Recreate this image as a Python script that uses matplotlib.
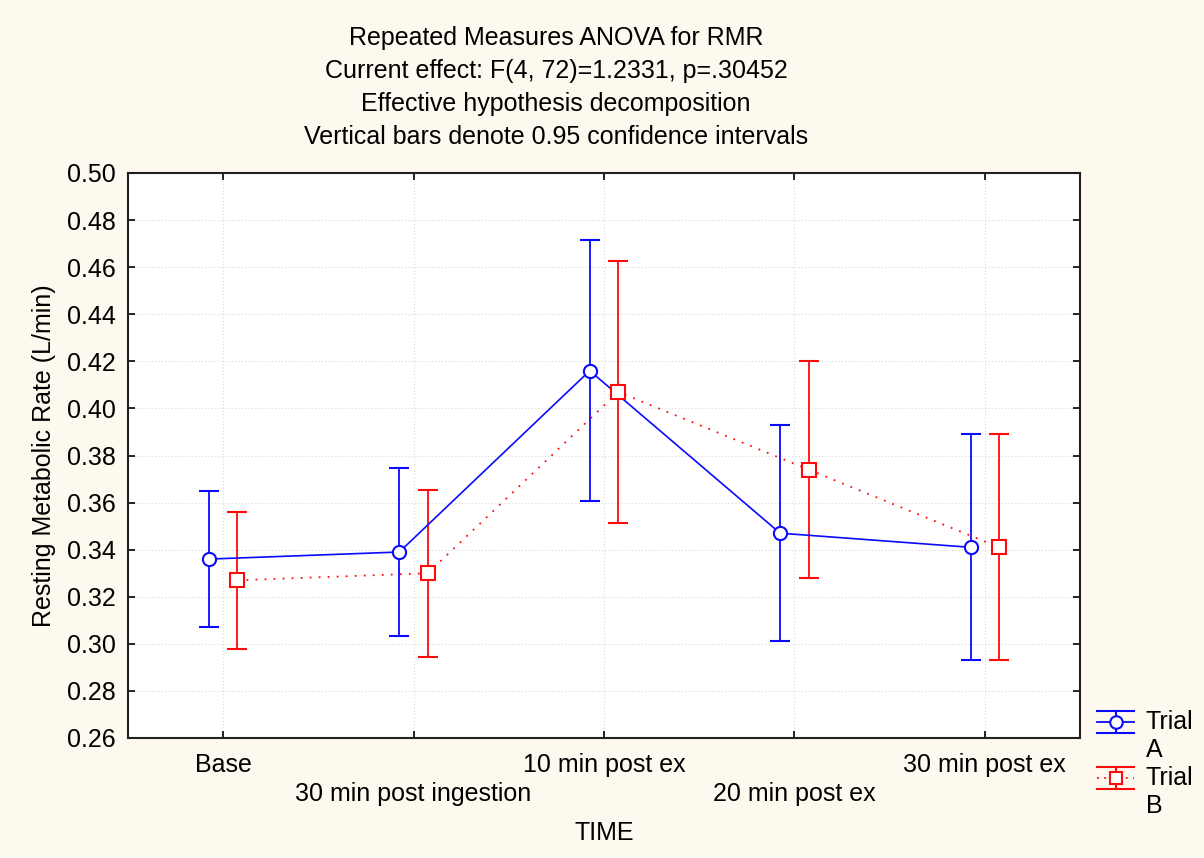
import matplotlib
matplotlib.use("Agg")
import matplotlib.pyplot as plt
from matplotlib.lines import Line2D
import matplotlib.transforms as mtransforms
import numpy as np

categories = ["Base", "30 min post ingestion", "10 min post ex", "20 min post ex", "30 min post ex"]
trial_a_mean = [0.336, 0.339, 0.416, 0.347, 0.341]
trial_a_low = [0.307, 0.3035, 0.3605, 0.301, 0.293]
trial_a_high = [0.365, 0.3745, 0.4715, 0.393, 0.389]
trial_b_mean = [0.327, 0.330, 0.407, 0.374, 0.341]
trial_b_low = [0.298, 0.2945, 0.3515, 0.328, 0.293]
trial_b_high = [0.356, 0.3655, 0.4625, 0.420, 0.389]
yticks = [0.26, 0.28, 0.30, 0.32, 0.34, 0.36, 0.38, 0.40, 0.42, 0.44, 0.46, 0.48, 0.50]
series_labels = ["Trial\nA", "Trial\nB"]
title_lines = ["Repeated Measures ANOVA for RMR",
               "Current effect: F(4, 72)=1.2331, p=.30452",
               "Effective hypothesis decomposition",
               "Vertical bars denote 0.95 confidence intervals"]

plt.rcParams['font.family'] = ['Liberation Sans', 'DejaVu Sans']
FS = 18
bg = '#FEF9EF'
blue = '#0A0AFF'
red = '#FF0A0A'
W, H = 1204, 858

fig = plt.figure(figsize=(W/100, H/100), dpi=100, facecolor=bg)
ax = fig.add_axes([128/W, 1-738/H, (1080-128)/W, (738-173)/H])
ax.set_facecolor('white')

x = np.arange(len(categories))
off = 0.075
am = np.array(trial_a_mean); bm = np.array(trial_b_mean)
a_err = [am - np.array(trial_a_low), np.array(trial_a_high) - am]
b_err = [bm - np.array(trial_b_low), np.array(trial_b_high) - bm]

ax.errorbar(x - off, am, yerr=a_err, color=blue, lw=1.2, marker='o', ms=9.5,
            mfc='white', mec=blue, mew=1.5, capsize=7, capthick=1.3, elinewidth=1.3, zorder=3)
ax.errorbar(x + off, bm, yerr=b_err, color=red, lw=1.3, ls=(0, (1, 4)), marker='s', ms=9.5,
            mfc='white', mec=red, mew=1.5, capsize=7, capthick=1.3, elinewidth=1.3, zorder=3)

ax.set_xlim(-0.5, 4.5)
ax.set_ylim(0.26, 0.50)
ax.set_yticks(yticks)
ax.set_yticklabels([f"{v:.2f}" for v in yticks], fontsize=FS)
ax.set_xticks(x)
ax.set_xticklabels(["" for _ in categories])
trans = mtransforms.blended_transform_factory(ax.transData, fig.transFigure)
for i, c in enumerate(categories):
    yy = 1 - (765 if i % 2 == 0 else 794)/H
    ax.text(i, yy, c, transform=trans, ha='center', va='center', fontsize=FS, clip_on=False)

ax.tick_params(axis='both', direction='in', length=5, width=1.2, top=True, right=True, pad=9)
for s in ax.spines.values():
    s.set_linewidth(1.5)
    s.set_color('#202020')
ax.grid(True, color='#D8D8D8', ls=(0, (1, 2)), lw=0.8)
ax.set_axisbelow(True)

ax.set_ylabel("Resting Metabolic Rate (L/min)", fontsize=FS, labelpad=8)
fig.text(604/W, 1-833/H, "TIME", ha='center', va='center', fontsize=FS)

for i, line in enumerate(title_lines):
    fig.text(556/W, 1-(38 + 33*i)/H, line, ha='center', va='center', fontsize=FS)

# legend (drawn in figure pixel coordinates)
def fx(px):
    return px / W
def fy(py):
    return 1 - py / H

legend_specs = [(series_labels[0], blue, 'o', '-', 722),
                (series_labels[1], red, 's', (0, (1, 3)), 778)]
for lab, col, mk, ls, yc in legend_specs:
    x0, x1, xm = 1097, 1134, 1116
    for yy in (yc - 11, yc + 11):
        fig.add_artist(Line2D([fx(x0), fx(x1)], [fy(yy), fy(yy)], color=col, lw=1.5))
    fig.add_artist(Line2D([fx(xm), fx(xm)], [fy(yc - 11), fy(yc + 11)], color=col, lw=1.5))
    fig.add_artist(Line2D([fx(x0), fx(x1)], [fy(yc), fy(yc)], color=col, lw=1.3, ls=ls))
    fig.add_artist(Line2D([fx(xm)], [fy(yc)], color=col, marker=mk, ms=9, mfc='white',
                          mec=col, mew=1.5, ls='none'))
    t1, t2 = lab.split("\n")
    fig.text(fx(1146), fy(yc), t1, ha='left', va='center', fontsize=FS)
    fig.text(fx(1146), fy(yc + 28), t2, ha='left', va='center', fontsize=FS)

fig.savefig("out.png", dpi=100, facecolor=bg)
